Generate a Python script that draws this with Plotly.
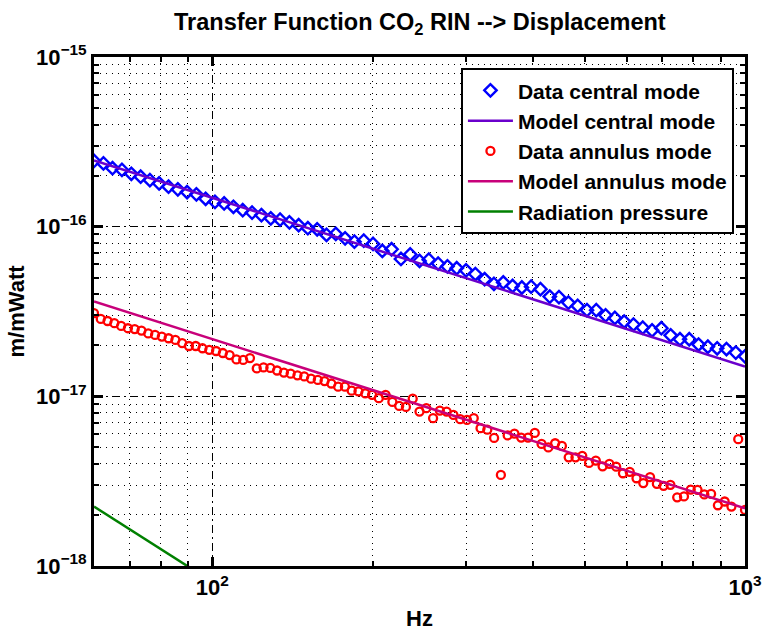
import plotly.graph_objects as go

# ---------------- data ----------------
blue_freq = [60.0, 62.5, 65.0, 67.7, 70.5, 73.4, 76.4, 79.5, 82.8, 86.2, 89.7, 93.4, 97.2, 101.2, 105.3,
             109.6, 114.1, 118.8, 123.7, 128.8, 134.1, 139.6, 145.3, 151.2, 157.4, 163.9, 170.6, 177.6,
             184.9, 192.5, 200.4, 208.6, 217.1, 226.1, 235.3, 245.0, 255.0, 265.5, 276.4, 287.7, 299.5,
             311.8, 324.6, 337.9, 351.8, 366.2, 381.2, 396.8, 413.1, 430.1, 447.6, 466.1, 485.2, 505.1,
             525.8, 547.4, 569.8, 593.2, 617.5, 642.8, 669.2, 696.6, 725.2, 755.0, 785.9, 818.2, 851.7,
             886.7, 923.0, 960.9, 1000.0]
blue_vals = [2.44e-16, 2.36e-16, 2.21e-16, 2.16e-16, 2.05e-16, 1.97e-16, 1.88e-16, 1.80e-16, 1.72e-16,
             1.66e-16, 1.60e-16, 1.55e-16, 1.46e-16, 1.40e-16, 1.37e-16, 1.31e-16, 1.25e-16, 1.21e-16,
             1.17e-16, 1.12e-16, 1.10e-16, 1.06e-16, 1.02e-16, 9.79e-17, 9.65e-17, 8.94e-17, 9.06e-17,
             8.54e-17, 8.16e-17, 8.27e-17, 7.91e-17, 7.19e-17, 7.36e-17, 6.45e-17, 6.86e-17, 6.28e-17,
             6.39e-17, 6.05e-17, 5.84e-17, 5.69e-17, 5.53e-17, 5.26e-17, 4.90e-17, 4.60e-17, 4.69e-17,
             4.47e-17, 4.38e-17, 4.43e-17, 4.28e-17, 3.87e-17, 3.84e-17, 3.57e-17, 3.41e-17, 3.22e-17,
             3.22e-17, 3.00e-17, 2.90e-17, 2.76e-17, 2.65e-17, 2.54e-17, 2.45e-17, 2.52e-17, 2.29e-17,
             2.17e-17, 2.17e-17, 2.02e-17, 1.96e-17, 1.92e-17, 1.90e-17, 1.81e-17, 1.72e-17]

red_freq = [60.00, 61.78, 63.62, 65.51, 67.46, 69.47, 71.54, 73.66, 75.85, 78.11,
            80.43, 82.82, 85.29, 87.82, 90.43, 93.12, 95.89, 98.75, 101.68, 104.71,
            107.82, 111.03, 114.33, 117.73, 121.23, 124.84, 128.55, 132.37, 136.31, 140.36,
            144.54, 148.84, 153.26, 157.82, 162.51, 167.35, 172.32, 177.45, 182.73, 188.16,
            193.76, 199.52, 205.45, 211.57, 217.86, 224.33, 231.01, 237.88, 244.95, 252.24,
            259.74, 267.46, 275.42, 283.61, 292.04, 300.73, 309.67, 318.88, 328.36, 338.13,
            348.19, 358.54, 369.20, 380.18, 391.49, 403.14, 415.12, 427.47, 440.18, 453.27,
            466.75, 480.64, 494.93, 509.65, 524.81, 540.42, 556.49, 573.04, 590.08, 607.63,
            625.70, 644.30, 663.47, 683.20, 703.52, 724.44, 745.99, 768.17, 791.02, 814.54,
            838.77, 863.71, 889.40, 915.85, 943.08, 971.13, 1000.00]
red_vals = [3.09e-17, 2.86e-17, 2.78e-17, 2.70e-17, 2.60e-17, 2.52e-17, 2.49e-17, 2.44e-17, 2.35e-17, 2.30e-17,
            2.25e-17, 2.20e-17, 2.15e-17, 2.06e-17, 1.98e-17, 1.98e-17, 1.92e-17, 1.88e-17, 1.85e-17, 1.80e-17,
            1.75e-17, 1.65e-17, 1.64e-17, 1.68e-17, 1.46e-17, 1.48e-17, 1.47e-17, 1.42e-17, 1.38e-17, 1.36e-17,
            1.33e-17, 1.31e-17, 1.27e-17, 1.25e-17, 1.23e-17, 1.19e-17, 1.14e-17, 1.14e-17, 1.08e-17, 1.07e-17,
            1.04e-17, 1.02e-17, 9.75e-18, 1.02e-17, 9.27e-18, 8.78e-18, 8.66e-18, 9.69e-18, 8.13e-18, 8.51e-18,
            7.43e-18, 8.24e-18, 8.13e-18, 7.77e-18, 7.33e-18, 7.26e-18, 7.43e-18, 6.49e-18, 6.36e-18, 5.69e-18,
            3.44e-18, 5.88e-18, 6.03e-18, 5.71e-18, 5.71e-18, 6.09e-18, 5.24e-18, 5.00e-18, 5.29e-18, 5.10e-18,
            4.37e-18, 4.37e-18, 4.46e-18, 4.05e-18, 4.18e-18, 3.87e-18, 4.00e-18, 3.85e-18, 3.52e-18, 3.59e-18,
            3.29e-18, 3.08e-18, 3.34e-18, 3.05e-18, 2.97e-18, 3.01e-18, 2.54e-18, 2.57e-18, 2.82e-18, 2.81e-18,
            2.64e-18, 2.66e-18, 2.28e-18, 2.40e-18, 2.24e-18, 5.59e-18, 2.14e-18]

model_central_freq = [60, 1000]
model_central_vals = [2.46e-16, 1.50e-17]
model_annulus_freq = [60, 1000]
model_annulus_vals = [3.62e-17, 2.19e-18]
radiation_freq = [60, 1000]
radiation_vals = [2.24e-18, 8.06e-21]

x_tickvals = [100, 1000]
x_ticktext = ["10<sup>2</sup>", "10<sup>3</sup>"]
x_minor = [70, 80, 90, 200, 300, 400, 500, 600, 700, 800, 900]
y_tickvals = [1e-18, 1e-17, 1e-16, 1e-15]
y_ticktext = ["10<sup>\u221218</sup>", "10<sup>\u221217</sup>", "10<sup>\u221216</sup>", "10<sup>\u221215</sup>"]
y_minor = [m * 10.0 ** e for e in (-18, -17, -16) for m in range(2, 10)]

FONT = "Liberation Sans, Arial, Helvetica, sans-serif"

fig = go.Figure()
fig.add_trace(go.Scatter(x=blue_freq, y=blue_vals, mode="markers", name="Data central mode",
                         marker=dict(symbol="diamond-open", size=9.5, color="#0000ff",
                                     line=dict(width=2.4, color="#0000ff"))))
fig.add_trace(go.Scatter(x=model_central_freq, y=model_central_vals, mode="lines", name="Model central mode",
                         line=dict(color="#6a00cc", width=2.5)))
fig.add_trace(go.Scatter(x=red_freq, y=red_vals, mode="markers", name="Data annulus mode",
                         marker=dict(symbol="circle-open", size=8, color="#ff0000",
                                     line=dict(width=2.3, color="#ff0000"))))
fig.add_trace(go.Scatter(x=model_annulus_freq, y=model_annulus_vals, mode="lines", name="Model annulus mode",
                         line=dict(color="#c8007a", width=2.5)))
fig.add_trace(go.Scatter(x=radiation_freq, y=radiation_vals, mode="lines", name="Radiation pressure",
                         line=dict(color="#008000", width=2.5)))

axis_common = dict(
    type="log", showline=True, linecolor="black", linewidth=3, mirror="allticks",
    ticks="inside", ticklen=9, tickwidth=2.5, tickcolor="black",
    tickmode="array", automargin=False,
    tickfont=dict(family=FONT, size=22, color="black", weight="bold"),
    showgrid=True, gridcolor="black", gridwidth=1.2, griddash="8px,4px,2px,4px",
    zeroline=False,
)

fig.update_layout(
    width=762, height=631,
    margin=dict(l=94, r=17, t=57, b=65, autoexpand=False),
    paper_bgcolor="white", plot_bgcolor="white",
    font=dict(family=FONT, color="black"),
    title=dict(text="Transfer Function CO<sub>2</sub> RIN --> Displacement",
               x=0.551, xanchor="center", y=1 - 22 / 631, yanchor="middle",
               font=dict(family=FONT, size=23.5, color="black", weight="bold")),
    xaxis=dict(axis_common, range=[1.778151, 3.0], tickvals=x_tickvals, ticktext=x_ticktext,
               minor=dict(tickmode="array", tickvals=x_minor, ticks="inside", ticklen=5, tickwidth=2,
                          tickcolor="black", showgrid=True, gridcolor="black", gridwidth=1,
                          griddash="1px,5px"),
               title=dict(text="Hz", font=dict(family=FONT, size=22, color="black", weight="bold"),
                          standoff=14)),
    yaxis=dict(axis_common, range=[-18, -15], tickvals=y_tickvals, ticktext=y_ticktext,
               minor=dict(tickmode="array", tickvals=y_minor, ticks="inside", ticklen=5, tickwidth=2,
                          tickcolor="black", showgrid=True, gridcolor="black", gridwidth=1,
                          griddash="1px,5px"),
               title=dict(text="m/mWatt", font=dict(family=FONT, size=22, color="black", weight="bold"),
                          standoff=6)),
    legend=dict(x=0.983, xanchor="right", y=0.978, yanchor="top",
                bgcolor="white", bordercolor="black", borderwidth=2,
                font=dict(family=FONT, size=21, color="black", weight="bold"),
                tracegroupgap=0, itemwidth=45),
    showlegend=True,
)

fig.write_html("out.html")
